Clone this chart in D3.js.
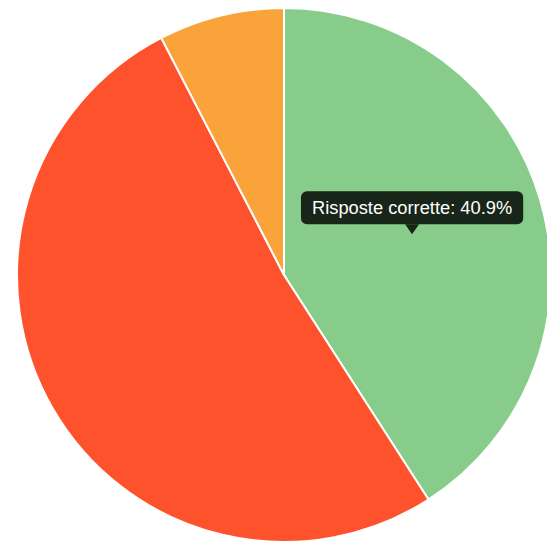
<!DOCTYPE html>
<html>
<head>
<meta charset="utf-8">
<script src="https://d3js.org/d3.v7.min.js"></script>
<style>
  body { margin: 0; background: #fff; }
  svg { display: block; }
  .tip-text { font-family: "Liberation Sans", Arial, sans-serif; fill: #fff; }
</style>
</head>
<body>
<svg class="pie" width="547" height="542"></svg>
<script>
  // chart data
  var labels = ["Risposte corrette", "Risposte errate", "Non risposte"];
  var values = [40.9, 51.5, 7.6];
  var colors = ["#87cc8b", "#fe522d", "#f9a33a"];
  var tipIndex = 0;

  var cx = 284, cy = 275, radius = 267;

  var svg = d3.select(".pie");
  var g = svg.append("g").attr("transform", "translate(" + cx + "," + cy + ")");

  var pie = d3.pie().sort(null).value(function(d) { return d; });
  var arc = d3.arc().innerRadius(0).outerRadius(radius);
  var arcs = pie(values);

  g.selectAll("path.slice")
    .data(arcs)
    .enter().append("path")
    .attr("class", "slice")
    .attr("d", arc)
    .attr("fill", function(d, i) { return colors[i]; })
    .attr("stroke", "#fff")
    .attr("stroke-width", 2);

  // tooltip on the first slice, like the hover state
  var c = arc.centroid(arcs[tipIndex]);
  var tx = cx + c[0], ty = cy + c[1] - 3;
  var tip = svg.append("g");
  var label = labels[tipIndex] + ": " + values[tipIndex].toFixed(1) + "%";
  var txt = tip.append("text")
    .attr("class", "tip-text")
    .attr("font-size", "18.3px")
    .attr("text-anchor", "middle")
    .attr("x", tx)
    .attr("y", ty - 20)
    .text(label);
  var w = txt.node().getComputedTextLength() + 22;
  var h = 33;
  tip.insert("rect", "text")
    .attr("x", tx - w / 2)
    .attr("y", ty - 10 - h)
    .attr("width", w)
    .attr("height", h)
    .attr("rx", 6)
    .attr("fill", "rgba(0,0,0,0.82)");
  tip.insert("path", "text")
    .attr("d", "M" + (tx - 7) + "," + (ty - 10) + "L" + tx + "," + ty + "L" + (tx + 7) + "," + (ty - 10) + "Z")
    .attr("fill", "rgba(0,0,0,0.82)");
</script>
</body>
</html>
